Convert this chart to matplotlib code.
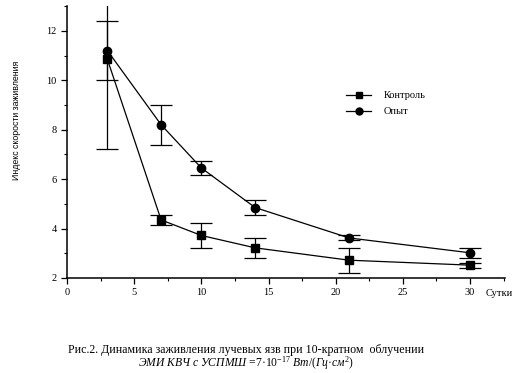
import matplotlib
matplotlib.use("Agg")
import matplotlib.pyplot as plt
from matplotlib.ticker import MultipleLocator
from matplotlib.lines import Line2D

days = [3, 7, 10, 14, 21, 30]
control = [10.85, 4.35, 3.72, 3.22, 2.72, 2.52]
control_err = [3.65, 0.2, 0.5, 0.4, 0.5, 0.1]
opyt = [11.2, 8.2, 6.45, 4.85, 3.62, 3.02]
opyt_err = [1.2, 0.8, 0.3, 0.3, 0.1, 0.2]

yticks = [2, 4, 6, 8, 10, 12]
xticks = [0, 5, 10, 15, 20, 25, 30]

plt.rcParams['font.family'] = ['Liberation Serif', 'DejaVu Serif']
plt.rcParams['mathtext.fontset'] = 'custom'
plt.rcParams['mathtext.rm'] = 'Liberation Serif'
plt.rcParams['mathtext.it'] = 'Liberation Serif:italic'

fig = plt.figure(figsize=(5.2, 3.73), dpi=100)
ax = fig.add_axes([0.129, 0.2547, 0.842, 0.729])

kw = dict(color='black', lw=0.9, elinewidth=0.9, capsize=8, capthick=0.9, markersize=6)
ax.errorbar(days, control, yerr=control_err, fmt='-s', **kw)
ax.errorbar(days, opyt, yerr=opyt_err, fmt='-o', **kw)

ax.set_xlim(0, 32.6)
ax.set_ylim(2, 13.0)
ax.set_xticks(xticks)
ax.set_yticks(yticks)
ax.xaxis.set_minor_locator(MultipleLocator(2.5))
ax.yaxis.set_minor_locator(MultipleLocator(1))
ax.tick_params(axis='both', which='major', labelsize=7.5, length=4, width=0.9, direction='out')
ax.tick_params(axis='both', which='minor', length=2, width=0.8, direction='out')
ax.spines['top'].set_visible(False)
ax.spines['right'].set_visible(False)
for s in ('left', 'bottom'):
    ax.spines[s].set_linewidth(1.1)

ax.text(0.957, -0.04, 'Сутки', transform=ax.transAxes, ha='left', va='top', fontsize=7.5)
ax.set_ylabel('Индекс скорости заживления', fontsize=6.3, family=['Liberation Sans', 'DejaVu Sans'])
ax.yaxis.set_label_coords(-0.105, 0.58)

handles = [Line2D([], [], color='black', lw=0.9, marker='s', markersize=5),
           Line2D([], [], color='black', lw=0.9, marker='o', markersize=5)]
ax.legend(handles, ['Контроль', 'Опыт'], loc='upper left', bbox_to_anchor=(0.628, 0.703),
          frameon=False, fontsize=7.5, handlelength=2.4, handletextpad=1.2, labelspacing=0.65,
          borderaxespad=0)

fig.text(0.474, 0.062, 'Рис.2. Динамика заживления лучевых язв при 10-кратном  облучении',
         ha='center', va='center', fontsize=8.6)
fig.text(0.474, 0.025,
         r'$\mathit{ЭМИ\ КВЧ\ с\ УСПМШ}$ =7·10$^{-17}$ $\mathit{Вт/(Гц·см^2)}$',
         ha='center', va='center', fontsize=8.4)

fig.savefig('out.png', dpi=100)
